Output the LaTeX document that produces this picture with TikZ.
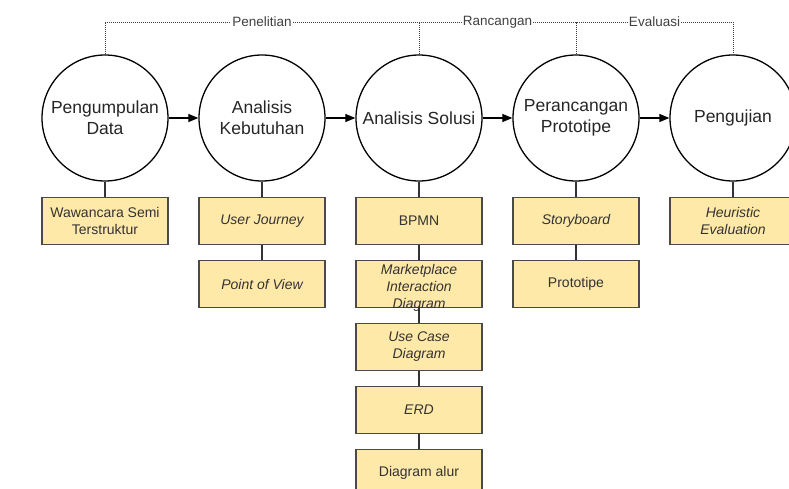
\documentclass[tikz,border=0pt]{standalone}
\usepackage{fontspec}
\setmainfont{Liberation Sans}
\usetikzlibrary{arrows.meta, calc}

\definecolor{boxfill}{HTML}{FFE9A8}
\definecolor{boxline}{HTML}{4A4A4A}
\definecolor{labelgray}{HTML}{404040}

\tikzset{
  stage/.style = {circle, draw = black, line width = 1.3pt, fill = white,
    minimum size = 126pt, inner sep = 0pt, align = center,
    font = \fontsize{17.5}{21}\selectfont, text = black!85},
  item/.style = {rectangle, draw = boxline, line width = 1.2pt, fill = boxfill,
    minimum width = 126pt, minimum height = 47pt, align = center,
    font = \fontsize{14}{17}\selectfont, text = black!80},
  term/.style = {item, font = \fontsize{14}{17}\selectfont\itshape},
  flow/.style = {line width = 1.2pt, -{Triangle[length = 10pt, width = 8pt]}},
  link/.style = {line width = 1.2pt, draw = black!80},
  phase/.style = {line width = 0.8pt, draw = labelgray, dash pattern = on 1pt off 1pt},
  phasename/.style = {fill = white, inner sep = 1pt, text = labelgray,
    font = \fontsize{13.5}{16}\selectfont}
}

\begin{document}
\begin{tikzpicture}[x = 1pt, y = -1pt]
\useasboundingbox (0, 0) rectangle (789, 489);
%\draw[red] (0, 0) rectangle (789, 489);

% tahapan
\node[stage] (kumpul) at (105, 118) {Pengumpulan\\Data};
\node[stage] (butuh) at (262, 118) {Analisis\\Kebutuhan};
\node[stage] (solusi) at (419, 118) {Analisis Solusi};
\node[stage] (rancang) at (576, 118) {Perancangan\\Prototipe};
\node[stage] (uji) at (733, 118) {Pengujian};

\draw[flow] (kumpul) -- (butuh);
\draw[flow] (butuh) -- (solusi);
\draw[flow] (solusi) -- (rancang);
\draw[flow] (rancang) -- (uji);

% pembagian fase
\coordinate (atas) at (0, 22);
\draw[phase] (kumpul.north) -- (kumpul.north |- atas) -- (uji.north |- atas) -- (uji.north);
\draw[phase] (solusi.north) -- (solusi.north |- atas);
\draw[phase] (rancang.north) -- (rancang.north |- atas);
\node[phasename] (fase1) at ($(kumpul.north |- atas)!0.5!(solusi.north |- atas)$) {Penelitian};
\node[phasename] (fase2) at ($(solusi.north |- atas)!0.5!(rancang.north |- atas)$) {Rancangan};
\node[phasename] (fase3) at ($(rancang.north |- atas)!0.5!(uji.north |- atas)$) {Evaluasi};

% keluaran
\node[item] (wawancara) at (105, 221) {Wawancara Semi\\Terstruktur};

\node[term] (journey) at (262, 221) {User Journey};
\node[term] (pov) at (262, 284) {Point of View};

\node[item] (bpmn) at (419, 221) {BPMN};
\node[term, label = {[align = center, text = black!80, yshift = -4pt,
	font = \fontsize{14}{17}\selectfont\itshape]center:Marketplace\\Interaction\\Diagram}]
	(mid) at (419, 284) {};
\node[term] (usecase) at (419, 347) {Use Case\\Diagram};
\node[term] (erd) at (419, 410) {ERD};
\node[item] (alur) at (419, 473) {Diagram alur};

\node[term] (story) at (576, 221) {Storyboard};
\node[item] (proto) at (576, 284) {Prototipe};

\node[term] (heuristic) at (733, 221) {Heuristic\\Evaluation};

\draw[link] (kumpul) -- (wawancara);
\draw[link] (butuh) -- (journey);
\draw[link] (journey) -- (pov);
\draw[link] (solusi) -- (bpmn);
\draw[link] (bpmn) -- (mid);
\draw[link] (mid) -- (usecase);
\draw[link] (usecase) -- (erd);
\draw[link] (erd) -- (alur);
\draw[link] (rancang) -- (story);
\draw[link] (story) -- (proto);
\draw[link] (uji) -- (heuristic);
\end{tikzpicture}
\end{document}
